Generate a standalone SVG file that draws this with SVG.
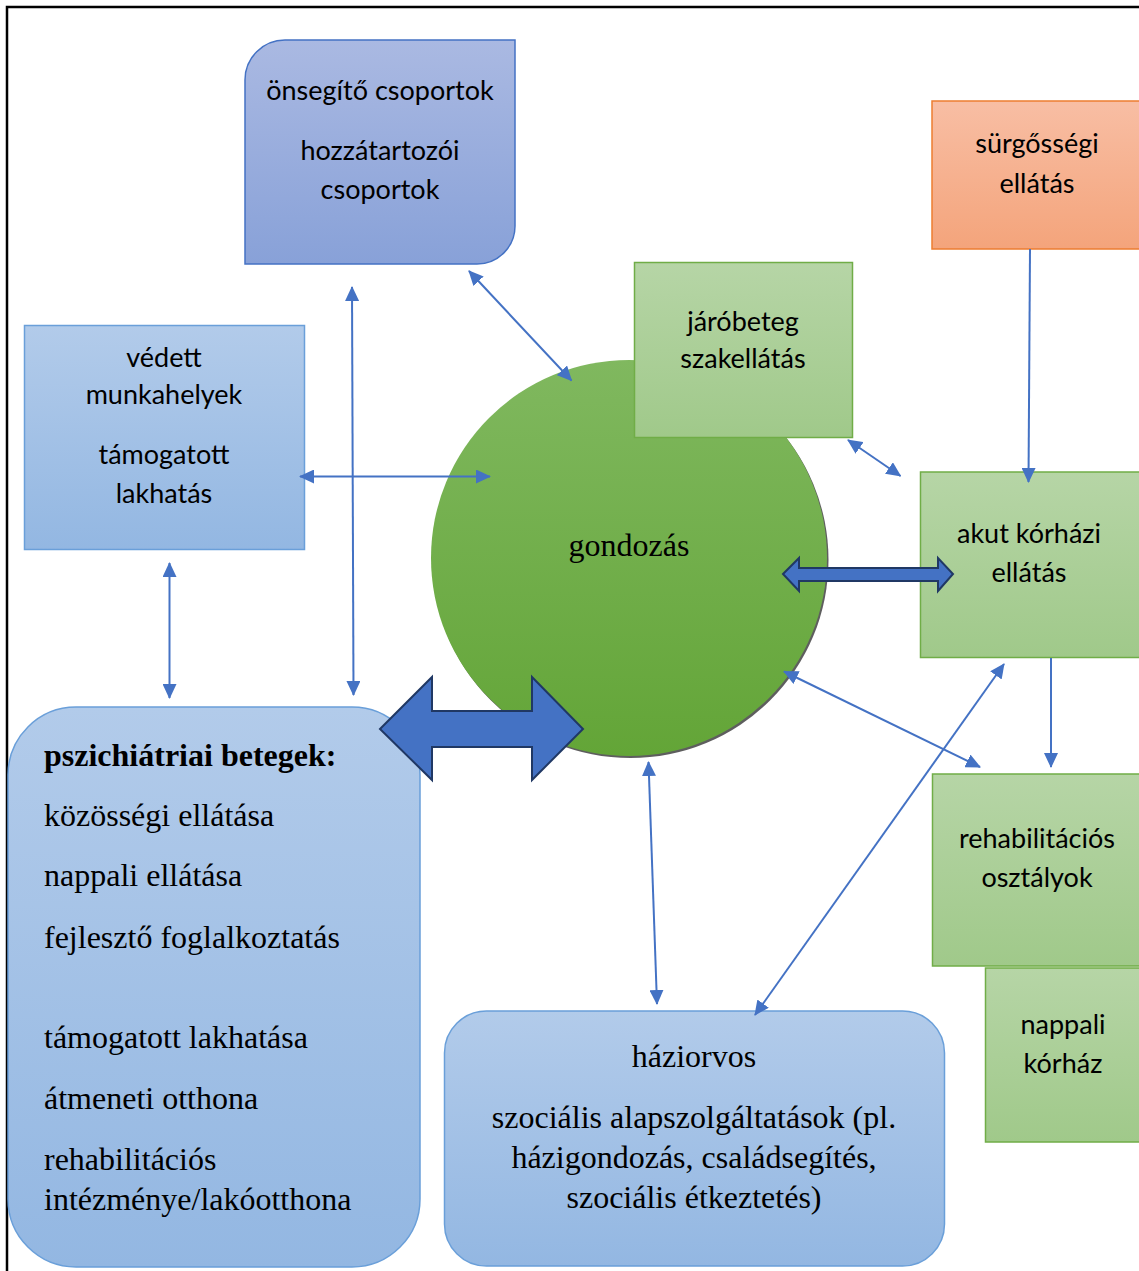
<svg xmlns="http://www.w3.org/2000/svg" width="1139" height="1271" viewBox="0 0 1139 1271">
<style>
.c{font-family:Lato,"Open Sans",sans-serif;font-size:27px;text-anchor:middle;fill:#000}
.t{font-family:"Liberation Serif","Times New Roman",serif;font-size:32px;fill:#000}
.tm{text-anchor:middle}
.b{font-weight:bold}
.ln{stroke:#4472c4;stroke-width:2;fill:none}
.blk{fill:#4472c4;stroke:#203864;stroke-width:2;stroke-linejoin:miter}
.gb{stroke:#70ad47;stroke-width:1.5}
.bb{stroke:#6a9fd9;stroke-width:1.5}
</style>
<defs>
<linearGradient id="gBlue" x1="0" y1="0" x2="0" y2="1"><stop offset="0" stop-color="#b2cbea"/><stop offset="1" stop-color="#93b7e2"/></linearGradient>
<linearGradient id="gPurp" x1="0" y1="0" x2="0" y2="1"><stop offset="0" stop-color="#aab9e2"/><stop offset="1" stop-color="#88a1d8"/></linearGradient>
<linearGradient id="gGreen" x1="0" y1="0" x2="0" y2="1"><stop offset="0" stop-color="#b6d5a6"/><stop offset="1" stop-color="#a0c98a"/></linearGradient>
<linearGradient id="gOr" x1="0" y1="0" x2="0" y2="1"><stop offset="0" stop-color="#f8bea4"/><stop offset="1" stop-color="#f4a47b"/></linearGradient>
<linearGradient id="gCirc" x1="0" y1="0" x2="0" y2="1"><stop offset="0" stop-color="#80b85f"/><stop offset="1" stop-color="#63a537"/></linearGradient>
<marker id="ah" viewBox="0 0 15 14" refX="14" refY="7" markerWidth="15" markerHeight="14" markerUnits="userSpaceOnUse" orient="auto-start-reverse"><path d="M0,0 L15,7 L0,14 z" fill="#4472c4"/></marker>
</defs>
<rect width="1139" height="1271" fill="#fff"/>
<path d="M7,1271 V7 H1139" fill="none" stroke="#000" stroke-width="2.5"/>

<g id="gondozas">
<circle cx="630.5" cy="560" r="198" fill="#5e5e5e"/>
<circle cx="629" cy="558" r="198" fill="url(#gCirc)"/>
<text class="t tm" x="629" y="556">gondozás</text>
</g>

<g id="onsegito">
<path d="M285,40 H515 V226 A38,38 0 0 1 477,264 H245 V80 A40,40 0 0 1 285,40 Z" fill="url(#gPurp)" stroke="#4472c4" stroke-width="1.5"/>
<text class="c" x="380" y="100">önsegítő csoportok</text>
<text class="c" x="380" y="160">hozzátartozói</text>
<text class="c" x="380" y="199">csoportok</text>
</g>

<g id="surgossegi">
<rect x="932" y="101" width="210" height="148" fill="url(#gOr)" stroke="#ed7d31" stroke-width="1.5"/>
<text class="c" x="1037" y="153">sürgősségi</text>
<text class="c" x="1037" y="193">ellátás</text>
</g>

<g id="jarobeteg">
<rect x="634.5" y="262.5" width="218" height="175" fill="url(#gGreen)" class="gb"/>
<text class="c" x="743" y="331">járóbeteg</text>
<text class="c" x="743" y="368">szakellátás</text>
</g>

<g id="vedett">
<rect x="24.5" y="325.5" width="280" height="224" fill="url(#gBlue)" class="bb"/>
<text class="c" x="164" y="367">védett</text>
<text class="c" x="164" y="404">munkahelyek</text>
<text class="c" x="164" y="464">támogatott</text>
<text class="c" x="164" y="503">lakhatás</text>
</g>

<g id="akut">
<rect x="920.5" y="472" width="220" height="185.5" fill="url(#gGreen)" class="gb"/>
<text class="c" x="1029" y="543">akut kórházi</text>
<text class="c" x="1029" y="582">ellátás</text>
</g>

<g id="rehab">
<rect x="932.5" y="774" width="210" height="192" fill="url(#gGreen)" class="gb"/>
<text class="c" x="1037" y="848">rehabilitációs</text>
<text class="c" x="1037" y="887">osztályok</text>
</g>

<g id="nappali">
<rect x="985.5" y="968" width="157" height="174" fill="url(#gGreen)" class="gb"/>
<text class="c" x="1063" y="1034">nappali</text>
<text class="c" x="1063" y="1073">kórház</text>
</g>

<g id="pszich">
<rect x="8" y="707" width="412" height="560" rx="68" ry="68" fill="url(#gBlue)" class="bb"/>
<text class="t b" x="44" y="766">pszichiátriai betegek:</text>
<text class="t" x="44" y="826">közösségi ellátása</text>
<text class="t" x="44" y="886">nappali ellátása</text>
<text class="t" x="44" y="948">fejlesztő foglalkoztatás</text>
<text class="t" x="44" y="1048">támogatott lakhatása</text>
<text class="t" x="44" y="1109">átmeneti otthona</text>
<text class="t" x="44" y="1170">rehabilitációs</text>
<text class="t" x="44" y="1210">intézménye/lakóotthona</text>
</g>

<g id="haziorvos">
<rect x="444.5" y="1011" width="500" height="255" rx="42" ry="42" fill="url(#gBlue)" class="bb"/>
<text class="t tm" x="694" y="1067">háziorvos</text>
<text class="t tm" x="694" y="1128">szociális alapszolgáltatások (pl.</text>
<text class="t tm" x="694" y="1168">házigondozás, családsegítés,</text>
<text class="t tm" x="694" y="1208">szociális étkeztetés)</text>
</g>

<g id="connectors">
<line class="ln" x1="352" y1="287" x2="353.5" y2="695" marker-start="url(#ah)" marker-end="url(#ah)"/>
<line class="ln" x1="469" y1="271" x2="571.5" y2="380.5" marker-start="url(#ah)" marker-end="url(#ah)"/>
<line class="ln" x1="300" y1="476.5" x2="490" y2="476.5" marker-start="url(#ah)" marker-end="url(#ah)"/>
<line class="ln" x1="169.5" y1="563" x2="169.5" y2="698" marker-start="url(#ah)" marker-end="url(#ah)"/>
<line class="ln" x1="848" y1="440" x2="900.5" y2="476" marker-start="url(#ah)" marker-end="url(#ah)"/>
<line class="ln" x1="1030" y1="249" x2="1028.5" y2="482" marker-end="url(#ah)"/>
<line class="ln" x1="784" y1="671.5" x2="980" y2="767" marker-start="url(#ah)" marker-end="url(#ah)"/>
<line class="ln" x1="1051" y1="658" x2="1051" y2="767" marker-end="url(#ah)"/>
<line class="ln" x1="1004" y1="664" x2="755" y2="1015" marker-start="url(#ah)" marker-end="url(#ah)"/>
<line class="ln" x1="648.5" y1="762" x2="657" y2="1004" marker-start="url(#ah)" marker-end="url(#ah)"/>
<polygon class="blk" points="783,574 799,558 799,568 938,568 938,558 953,574 938,591 938,581 799,581 799,591"/>
<polygon class="blk" points="380,729 432,677 432,711 532,711 532,677 583,729 532,780 532,747 432,747 432,780"/>
</g>
</svg>
